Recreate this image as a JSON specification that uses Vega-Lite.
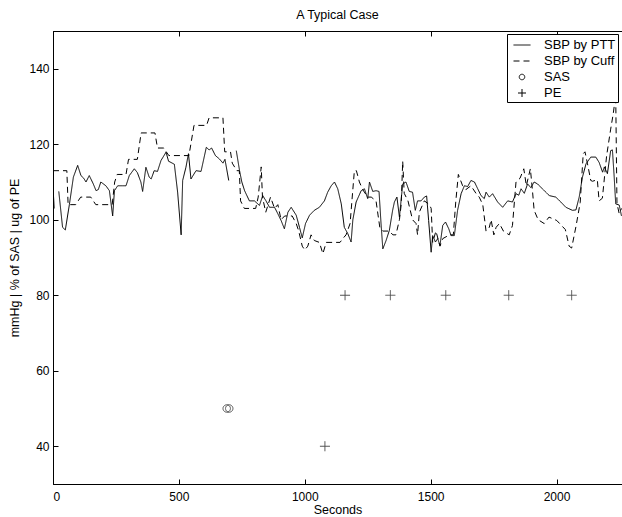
{
  "$schema": "https://vega.github.io/schema/vega-lite/v6.json",
  "width": 569,
  "height": 453,
  "autosize": "none",
  "padding": {"left": 53, "top": 31, "right": 0, "bottom": 33},
  "background": "white",
  "title": {"text": "A Typical Case", "fontSize": 12.5, "fontWeight": "normal", "font": "Liberation Sans", "offset": 9, "color": "black"},
  "config": {
    "view": {"stroke": "black", "strokeWidth": 1},
    "axis": {"grid": false, "domainColor": "black", "tickColor": "black", "labelColor": "black", "titleColor": "black", "labelFont": "Liberation Sans", "titleFont": "Liberation Sans", "labelFontSize": 12, "titleFontSize": 12.5, "titleFontWeight": "normal", "tickSize": -5, "labelPadding": 9, "domainWidth": 1, "tickWidth": 1}
  },
  "datasets": {
    "bp": [
      {"t":0,"v":108.5,"s":"SBP by PTT"},{"t":5,"v":103,"s":"SBP by PTT"},{"t":12,"v":null,"s":"SBP by PTT"},{"t":23,"v":107.5,"s":"SBP by PTT"},{"t":38,"v":98,"s":"SBP by PTT"},{"t":49,"v":97.3,"s":"SBP by PTT"},{"t":65,"v":104,"s":"SBP by PTT"},{"t":81,"v":111.3,"s":"SBP by PTT"},{"t":98,"v":114.4,"s":"SBP by PTT"},{"t":111,"v":111.7,"s":"SBP by PTT"},{"t":122,"v":111,"s":"SBP by PTT"},{"t":131,"v":110,"s":"SBP by PTT"},{"t":144,"v":111.7,"s":"SBP by PTT"},{"t":160,"v":109.5,"s":"SBP by PTT"},{"t":171,"v":107.7,"s":"SBP by PTT"},{"t":180,"v":108,"s":"SBP by PTT"},{"t":190,"v":110,"s":"SBP by PTT"},{"t":200,"v":109.5,"s":"SBP by PTT"},{"t":210,"v":109,"s":"SBP by PTT"},{"t":224,"v":107.7,"s":"SBP by PTT"},{"t":237,"v":101,"s":"SBP by PTT"},{"t":244,"v":107.7,"s":"SBP by PTT"},{"t":257,"v":109,"s":"SBP by PTT"},{"t":275,"v":109,"s":"SBP by PTT"},{"t":290,"v":109,"s":"SBP by PTT"},{"t":303,"v":111.7,"s":"SBP by PTT"},{"t":323,"v":113.5,"s":"SBP by PTT"},{"t":335,"v":112.5,"s":"SBP by PTT"},{"t":349,"v":110,"s":"SBP by PTT"},{"t":356,"v":107.5,"s":"SBP by PTT"},{"t":369,"v":113.9,"s":"SBP by PTT"},{"t":382,"v":111.3,"s":"SBP by PTT"},{"t":390,"v":110.8,"s":"SBP by PTT"},{"t":402,"v":113,"s":"SBP by PTT"},{"t":415,"v":112.8,"s":"SBP by PTT"},{"t":429,"v":115.7,"s":"SBP by PTT"},{"t":449,"v":117.9,"s":"SBP by PTT"},{"t":459,"v":115.5,"s":"SBP by PTT"},{"t":468,"v":115.2,"s":"SBP by PTT"},{"t":482,"v":114.7,"s":"SBP by PTT"},{"t":495,"v":107.3,"s":"SBP by PTT"},{"t":509,"v":96,"s":"SBP by PTT"},{"t":515,"v":110.4,"s":"SBP by PTT"},{"t":528,"v":113.9,"s":"SBP by PTT"},{"t":538,"v":117.5,"s":"SBP by PTT"},{"t":548,"v":110.8,"s":"SBP by PTT"},{"t":568,"v":113,"s":"SBP by PTT"},{"t":588,"v":112.8,"s":"SBP by PTT"},{"t":609,"v":119.2,"s":"SBP by PTT"},{"t":620,"v":118.5,"s":"SBP by PTT"},{"t":630,"v":119,"s":"SBP by PTT"},{"t":645,"v":117,"s":"SBP by PTT"},{"t":661,"v":116.1,"s":"SBP by PTT"},{"t":675,"v":115,"s":"SBP by PTT"},{"t":683,"v":116,"s":"SBP by PTT"},{"t":698,"v":110.4,"s":"SBP by PTT"},{"t":710,"v":null,"s":"SBP by PTT"},{"t":728,"v":118.3,"s":"SBP by PTT"},{"t":741,"v":113,"s":"SBP by PTT"},{"t":750,"v":110,"s":"SBP by PTT"},{"t":761,"v":107.7,"s":"SBP by PTT"},{"t":780,"v":105,"s":"SBP by PTT"},{"t":800,"v":105,"s":"SBP by PTT"},{"t":820,"v":103.8,"s":"SBP by PTT"},{"t":833,"v":106.4,"s":"SBP by PTT"},{"t":846,"v":105,"s":"SBP by PTT"},{"t":860,"v":103.3,"s":"SBP by PTT"},{"t":880,"v":103.3,"s":"SBP by PTT"},{"t":893,"v":101.6,"s":"SBP by PTT"},{"t":906,"v":99.8,"s":"SBP by PTT"},{"t":919,"v":97.6,"s":"SBP by PTT"},{"t":933,"v":102,"s":"SBP by PTT"},{"t":946,"v":103.3,"s":"SBP by PTT"},{"t":966,"v":101.2,"s":"SBP by PTT"},{"t":979,"v":98,"s":"SBP by PTT"},{"t":990,"v":95.2,"s":"SBP by PTT"},{"t":1003,"v":99,"s":"SBP by PTT"},{"t":1019,"v":101.2,"s":"SBP by PTT"},{"t":1038,"v":102.5,"s":"SBP by PTT"},{"t":1058,"v":103.3,"s":"SBP by PTT"},{"t":1078,"v":105,"s":"SBP by PTT"},{"t":1091,"v":107.3,"s":"SBP by PTT"},{"t":1105,"v":109,"s":"SBP by PTT"},{"t":1118,"v":110,"s":"SBP by PTT"},{"t":1131,"v":108.2,"s":"SBP by PTT"},{"t":1145,"v":104.2,"s":"SBP by PTT"},{"t":1157,"v":98,"s":"SBP by PTT"},{"t":1171,"v":96.3,"s":"SBP by PTT"},{"t":1184,"v":94.1,"s":"SBP by PTT"},{"t":1191,"v":100,"s":"SBP by PTT"},{"t":1204,"v":104.7,"s":"SBP by PTT"},{"t":1224,"v":107.7,"s":"SBP by PTT"},{"t":1237,"v":108.2,"s":"SBP by PTT"},{"t":1250,"v":105.6,"s":"SBP by PTT"},{"t":1257,"v":110,"s":"SBP by PTT"},{"t":1270,"v":107.5,"s":"SBP by PTT"},{"t":1283,"v":107.7,"s":"SBP by PTT"},{"t":1295,"v":107.5,"s":"SBP by PTT"},{"t":1303,"v":98.9,"s":"SBP by PTT"},{"t":1310,"v":92.3,"s":"SBP by PTT"},{"t":1323,"v":94.5,"s":"SBP by PTT"},{"t":1336,"v":97.2,"s":"SBP by PTT"},{"t":1349,"v":102.5,"s":"SBP by PTT"},{"t":1356,"v":104.7,"s":"SBP by PTT"},{"t":1366,"v":106,"s":"SBP by PTT"},{"t":1376,"v":100.7,"s":"SBP by PTT"},{"t":1389,"v":109.5,"s":"SBP by PTT"},{"t":1402,"v":110,"s":"SBP by PTT"},{"t":1415,"v":107.5,"s":"SBP by PTT"},{"t":1428,"v":107.3,"s":"SBP by PTT"},{"t":1439,"v":102.5,"s":"SBP by PTT"},{"t":1448,"v":105,"s":"SBP by PTT"},{"t":1462,"v":105,"s":"SBP by PTT"},{"t":1475,"v":106,"s":"SBP by PTT"},{"t":1484,"v":106.3,"s":"SBP by PTT"},{"t":1492,"v":99.8,"s":"SBP by PTT"},{"t":1502,"v":91.4,"s":"SBP by PTT"},{"t":1508,"v":95.8,"s":"SBP by PTT"},{"t":1519,"v":94.1,"s":"SBP by PTT"},{"t":1528,"v":95,"s":"SBP by PTT"},{"t":1537,"v":93.2,"s":"SBP by PTT"},{"t":1548,"v":98.5,"s":"SBP by PTT"},{"t":1559,"v":99.4,"s":"SBP by PTT"},{"t":1572,"v":97.6,"s":"SBP by PTT"},{"t":1581,"v":95.8,"s":"SBP by PTT"},{"t":1594,"v":95.8,"s":"SBP by PTT"},{"t":1607,"v":102.5,"s":"SBP by PTT"},{"t":1621,"v":106.9,"s":"SBP by PTT"},{"t":1634,"v":109,"s":"SBP by PTT"},{"t":1647,"v":108.8,"s":"SBP by PTT"},{"t":1660,"v":110.4,"s":"SBP by PTT"},{"t":1674,"v":110,"s":"SBP by PTT"},{"t":1687,"v":108.2,"s":"SBP by PTT"},{"t":1700,"v":106.4,"s":"SBP by PTT"},{"t":1713,"v":105.6,"s":"SBP by PTT"},{"t":1720,"v":107.3,"s":"SBP by PTT"},{"t":1733,"v":106,"s":"SBP by PTT"},{"t":1746,"v":106.9,"s":"SBP by PTT"},{"t":1766,"v":104.7,"s":"SBP by PTT"},{"t":1786,"v":103.3,"s":"SBP by PTT"},{"t":1806,"v":105,"s":"SBP by PTT"},{"t":1825,"v":104.7,"s":"SBP by PTT"},{"t":1839,"v":106.9,"s":"SBP by PTT"},{"t":1850,"v":106.5,"s":"SBP by PTT"},{"t":1859,"v":108.2,"s":"SBP by PTT"},{"t":1872,"v":107,"s":"SBP by PTT"},{"t":1885,"v":109.5,"s":"SBP by PTT"},{"t":1898,"v":108.5,"s":"SBP by PTT"},{"t":1911,"v":110,"s":"SBP by PTT"},{"t":1924,"v":109.5,"s":"SBP by PTT"},{"t":1944,"v":108.2,"s":"SBP by PTT"},{"t":1971,"v":106.4,"s":"SBP by PTT"},{"t":1997,"v":106,"s":"SBP by PTT"},{"t":2017,"v":104.7,"s":"SBP by PTT"},{"t":2037,"v":103.3,"s":"SBP by PTT"},{"t":2063,"v":102.5,"s":"SBP by PTT"},{"t":2077,"v":102.6,"s":"SBP by PTT"},{"t":2090,"v":106,"s":"SBP by PTT"},{"t":2103,"v":111.3,"s":"SBP by PTT"},{"t":2117,"v":114.8,"s":"SBP by PTT"},{"t":2136,"v":116.6,"s":"SBP by PTT"},{"t":2156,"v":116.6,"s":"SBP by PTT"},{"t":2169,"v":115.2,"s":"SBP by PTT"},{"t":2183,"v":112.6,"s":"SBP by PTT"},{"t":2190,"v":114,"s":"SBP by PTT"},{"t":2202,"v":112.2,"s":"SBP by PTT"},{"t":2215,"v":118.3,"s":"SBP by PTT"},{"t":2222,"v":118.5,"s":"SBP by PTT"},{"t":2229,"v":111.3,"s":"SBP by PTT"},{"t":2235,"v":104.2,"s":"SBP by PTT"},{"t":2249,"v":103.9,"s":"SBP by PTT"},{"t":2258,"v":101,"s":"SBP by PTT"},
      {"t":0,"v":113,"s":"SBP by Cuff"},{"t":55,"v":113,"s":"SBP by Cuff"},{"t":60,"v":104,"s":"SBP by Cuff"},{"t":90,"v":104,"s":"SBP by Cuff"},{"t":110,"v":106,"s":"SBP by Cuff"},{"t":150,"v":106,"s":"SBP by Cuff"},{"t":170,"v":104,"s":"SBP by Cuff"},{"t":235,"v":104,"s":"SBP by Cuff"},{"t":245,"v":110,"s":"SBP by Cuff"},{"t":255,"v":112,"s":"SBP by Cuff"},{"t":290,"v":112,"s":"SBP by Cuff"},{"t":300,"v":116,"s":"SBP by Cuff"},{"t":335,"v":116,"s":"SBP by Cuff"},{"t":350,"v":123,"s":"SBP by Cuff"},{"t":405,"v":123,"s":"SBP by Cuff"},{"t":415,"v":119,"s":"SBP by Cuff"},{"t":440,"v":119,"s":"SBP by Cuff"},{"t":460,"v":117,"s":"SBP by Cuff"},{"t":540,"v":117,"s":"SBP by Cuff"},{"t":560,"v":125,"s":"SBP by Cuff"},{"t":610,"v":125,"s":"SBP by Cuff"},{"t":620,"v":127,"s":"SBP by Cuff"},{"t":675,"v":127,"s":"SBP by Cuff"},{"t":682,"v":118,"s":"SBP by Cuff"},{"t":705,"v":118,"s":"SBP by Cuff"},{"t":712,"v":115,"s":"SBP by Cuff"},{"t":730,"v":113,"s":"SBP by Cuff"},{"t":740,"v":113,"s":"SBP by Cuff"},{"t":745,"v":105,"s":"SBP by Cuff"},{"t":760,"v":103,"s":"SBP by Cuff"},{"t":805,"v":103,"s":"SBP by Cuff"},{"t":815,"v":106,"s":"SBP by Cuff"},{"t":827,"v":114,"s":"SBP by Cuff"},{"t":832,"v":106,"s":"SBP by Cuff"},{"t":845,"v":102,"s":"SBP by Cuff"},{"t":864,"v":106,"s":"SBP by Cuff"},{"t":880,"v":103,"s":"SBP by Cuff"},{"t":893,"v":104,"s":"SBP by Cuff"},{"t":906,"v":100,"s":"SBP by Cuff"},{"t":920,"v":101,"s":"SBP by Cuff"},{"t":950,"v":101,"s":"SBP by Cuff"},{"t":966,"v":99,"s":"SBP by Cuff"},{"t":976,"v":97,"s":"SBP by Cuff"},{"t":990,"v":93,"s":"SBP by Cuff"},{"t":1000,"v":92,"s":"SBP by Cuff"},{"t":1012,"v":93,"s":"SBP by Cuff"},{"t":1025,"v":96,"s":"SBP by Cuff"},{"t":1038,"v":94.5,"s":"SBP by Cuff"},{"t":1058,"v":94,"s":"SBP by Cuff"},{"t":1072,"v":91,"s":"SBP by Cuff"},{"t":1085,"v":94,"s":"SBP by Cuff"},{"t":1140,"v":94,"s":"SBP by Cuff"},{"t":1151,"v":95,"s":"SBP by Cuff"},{"t":1164,"v":96,"s":"SBP by Cuff"},{"t":1180,"v":99,"s":"SBP by Cuff"},{"t":1197,"v":113,"s":"SBP by Cuff"},{"t":1205,"v":113,"s":"SBP by Cuff"},{"t":1217,"v":110,"s":"SBP by Cuff"},{"t":1230,"v":108,"s":"SBP by Cuff"},{"t":1250,"v":106,"s":"SBP by Cuff"},{"t":1264,"v":106,"s":"SBP by Cuff"},{"t":1283,"v":105,"s":"SBP by Cuff"},{"t":1298,"v":98,"s":"SBP by Cuff"},{"t":1310,"v":97,"s":"SBP by Cuff"},{"t":1336,"v":97,"s":"SBP by Cuff"},{"t":1350,"v":96,"s":"SBP by Cuff"},{"t":1362,"v":96,"s":"SBP by Cuff"},{"t":1376,"v":100,"s":"SBP by Cuff"},{"t":1383,"v":104,"s":"SBP by Cuff"},{"t":1389,"v":115.5,"s":"SBP by Cuff"},{"t":1395,"v":107,"s":"SBP by Cuff"},{"t":1410,"v":105,"s":"SBP by Cuff"},{"t":1428,"v":100,"s":"SBP by Cuff"},{"t":1442,"v":99,"s":"SBP by Cuff"},{"t":1448,"v":96,"s":"SBP by Cuff"},{"t":1455,"v":102,"s":"SBP by Cuff"},{"t":1475,"v":105,"s":"SBP by Cuff"},{"t":1495,"v":104,"s":"SBP by Cuff"},{"t":1502,"v":103,"s":"SBP by Cuff"},{"t":1508,"v":94,"s":"SBP by Cuff"},{"t":1521,"v":97,"s":"SBP by Cuff"},{"t":1537,"v":93,"s":"SBP by Cuff"},{"t":1548,"v":95,"s":"SBP by Cuff"},{"t":1575,"v":96,"s":"SBP by Cuff"},{"t":1590,"v":96,"s":"SBP by Cuff"},{"t":1600,"v":105,"s":"SBP by Cuff"},{"t":1610,"v":112,"s":"SBP by Cuff"},{"t":1627,"v":109,"s":"SBP by Cuff"},{"t":1640,"v":108,"s":"SBP by Cuff"},{"t":1660,"v":109,"s":"SBP by Cuff"},{"t":1680,"v":107,"s":"SBP by Cuff"},{"t":1693,"v":106,"s":"SBP by Cuff"},{"t":1707,"v":104,"s":"SBP by Cuff"},{"t":1720,"v":97,"s":"SBP by Cuff"},{"t":1733,"v":98,"s":"SBP by Cuff"},{"t":1740,"v":100,"s":"SBP by Cuff"},{"t":1751,"v":96,"s":"SBP by Cuff"},{"t":1760,"v":98,"s":"SBP by Cuff"},{"t":1773,"v":99,"s":"SBP by Cuff"},{"t":1789,"v":97,"s":"SBP by Cuff"},{"t":1812,"v":96,"s":"SBP by Cuff"},{"t":1825,"v":98.5,"s":"SBP by Cuff"},{"t":1839,"v":110,"s":"SBP by Cuff"},{"t":1855,"v":111,"s":"SBP by Cuff"},{"t":1870,"v":113.5,"s":"SBP by Cuff"},{"t":1880,"v":109,"s":"SBP by Cuff"},{"t":1896,"v":113.5,"s":"SBP by Cuff"},{"t":1904,"v":108,"s":"SBP by Cuff"},{"t":1911,"v":102.5,"s":"SBP by Cuff"},{"t":1927,"v":100,"s":"SBP by Cuff"},{"t":1951,"v":99,"s":"SBP by Cuff"},{"t":1970,"v":100.7,"s":"SBP by Cuff"},{"t":2001,"v":99.8,"s":"SBP by Cuff"},{"t":2035,"v":97.4,"s":"SBP by Cuff"},{"t":2050,"v":93,"s":"SBP by Cuff"},{"t":2060,"v":92.5,"s":"SBP by Cuff"},{"t":2078,"v":98.5,"s":"SBP by Cuff"},{"t":2094,"v":104.6,"s":"SBP by Cuff"},{"t":2106,"v":117.5,"s":"SBP by Cuff"},{"t":2113,"v":118,"s":"SBP by Cuff"},{"t":2123,"v":114.8,"s":"SBP by Cuff"},{"t":2136,"v":110.4,"s":"SBP by Cuff"},{"t":2143,"v":110.2,"s":"SBP by Cuff"},{"t":2162,"v":110.6,"s":"SBP by Cuff"},{"t":2169,"v":105,"s":"SBP by Cuff"},{"t":2182,"v":105.7,"s":"SBP by Cuff"},{"t":2199,"v":117,"s":"SBP by Cuff"},{"t":2215,"v":124,"s":"SBP by Cuff"},{"t":2225,"v":128,"s":"SBP by Cuff"},{"t":2235,"v":133,"s":"SBP by Cuff"},{"t":2240,"v":104.3,"s":"SBP by Cuff"},{"t":2249,"v":101.6,"s":"SBP by Cuff"},{"t":2258,"v":103,"s":"SBP by Cuff"}
    ],
    "sas": [
      {"t":690,"v":50,"s":"SAS"},{"t":700,"v":50,"s":"SAS"}
    ],
    "pe": [
      {"t":1080,"v":40,"s":"PE"},{"t":1160,"v":80,"s":"PE"},{"t":1340,"v":80,"s":"PE"},{"t":1560,"v":80,"s":"PE"},{"t":1810,"v":80,"s":"PE"},{"t":2060,"v":80,"s":"PE"}
    ]
  },
  "layer": [
    {
      "data": {"name": "bp"},
      "mark": {"type": "line", "color": "black", "strokeWidth": 1, "invalid": "break-paths-show-domains", "clip": true},
      "encoding": {
        "x": {"field": "t", "type": "quantitative", "scale": {"domain": [0, 2260], "nice": false, "zero": false},
              "axis": {"orient": "bottom", "title": "Seconds", "values": [0, 500, 1000, 1500, 2000], "format": "d", "labelPadding": 12, "titlePadding": 1}},
        "y": {"field": "v", "type": "quantitative", "scale": {"domain": [30, 150], "nice": false, "zero": false},
              "axis": {"orient": "left", "title": "mmHg | % of SAS | ug of PE", "values": [40, 60, 80, 100, 120, 140], "titlePadding": 7}},
        "strokeDash": {"field": "s", "type": "nominal",
          "scale": {"domain": ["SBP by PTT", "SBP by Cuff", "SAS", "PE"], "range": [[1, 0], [6, 4], [1, 0], [1, 0]]},
          "legend": {"title": null, "orient": "none", "legendX": 454, "legendY": 3, "direction": "vertical",
            "fillColor": "white", "strokeColor": "black", "padding": 2, "rowPadding": -2, "cornerRadius": 0,
            "labelFont": "Liberation Sans", "labelFontSize": 13, "labelColor": "black", "labelOffset": 13,
            "symbolSize": 289, "symbolOffset": 4, "symbolStrokeColor": "black", "symbolStrokeWidth": 1, "symbolType": "stroke",
            "encode": {"symbols": {"update": {
              "shape": {"signal": "datum.value === 'SAS' ? 'circle' : datum.value === 'PE' ? 'M-1,0L1,0M0,-1L0,1' : 'stroke'"},
              "size": {"signal": "datum.value === 'SAS' ? 30 : datum.value === 'PE' ? 64 : 289"},
              "stroke": {"value": "black"},
              "fill": {"value": "transparent"},
              "strokeWidth": {"value": 1}
            }}}
          }
        }
      }
    },
    {
      "data": {"name": "sas"},
      "mark": {"type": "point", "shape": "circle", "size": 55, "filled": false, "color": "black", "strokeWidth": 1},
      "encoding": {
        "x": {"field": "t", "type": "quantitative", "scale": {"domain": [0, 2260], "nice": false, "zero": false},
              "axis": {"orient": "top", "labels": false, "title": null, "values": [0, 500, 1000, 1500, 2000]}},
        "y": {"field": "v", "type": "quantitative", "scale": {"domain": [30, 150], "nice": false, "zero": false}, "axis": null},
        "strokeDash": {"field": "s", "type": "nominal",
          "scale": {"domain": ["SBP by PTT", "SBP by Cuff", "SAS", "PE"], "range": [[1, 0], [6, 4], [1, 0], [1, 0]]}}
      }
    },
    {
      "data": {"name": "pe"},
      "mark": {"type": "point", "shape": "M-1,0L1,0M0,-1L0,1", "size": 100, "filled": false, "color": "black", "strokeWidth": 1},
      "encoding": {
        "x": {"field": "t", "type": "quantitative", "scale": {"domain": [0, 2260], "nice": false, "zero": false}, "axis": null},
        "y": {"field": "v", "type": "quantitative", "scale": {"domain": [30, 150], "nice": false, "zero": false}, "axis": null},
        "strokeDash": {"field": "s", "type": "nominal",
          "scale": {"domain": ["SBP by PTT", "SBP by Cuff", "SAS", "PE"], "range": [[1, 0], [6, 4], [1, 0], [1, 0]]}}
      }
    }
  ],
  "resolve": {"axis": {"x": "independent", "y": "independent"}}
}
